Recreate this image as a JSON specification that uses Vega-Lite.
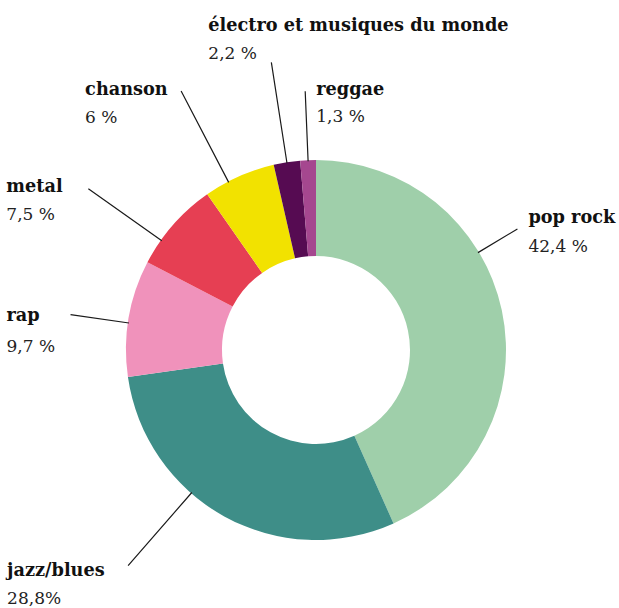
{
  "$schema": "https://vega.github.io/schema/vega-lite/v6.json",
  "width": 600,
  "height": 516,
  "autosize": {"type": "none"},
  "padding": {"left": 16, "top": 92, "right": 3, "bottom": 0},
  "background": "#ffffff",
  "config": {"view": {"stroke": null}, "text": {"font": "DejaVu Serif", "fontSize": 17, "baseline": "alphabetic"}},
  "data": {
    "values": [
      {"rank": 1, "genre": "pop rock", "pct": 42.4, "label": "42,4 %"},
      {"rank": 2, "genre": "jazz/blues", "pct": 28.8, "label": "28,8%"},
      {"rank": 3, "genre": "rap", "pct": 9.7, "label": "9,7 %"},
      {"rank": 4, "genre": "metal", "pct": 7.5, "label": "7,5 %"},
      {"rank": 5, "genre": "chanson", "pct": 6, "label": "6 %"},
      {"rank": 6, "genre": "électro et musiques du monde", "pct": 2.2, "label": "2,2 %"},
      {"rank": 7, "genre": "reggae", "pct": 1.3, "label": "1,3 %"}
    ]
  },
  "encoding": {
    "theta": {"field": "pct", "type": "quantitative", "stack": true},
    "order": {"field": "rank", "type": "quantitative"},
    "detail": {"field": "genre", "type": "nominal"}
  },
  "layer": [
    {
      "mark": {"type": "arc", "innerRadius": 94, "outerRadius": 190},
      "encoding": {
        "color": {
          "field": "genre", "type": "nominal", "legend": null,
          "scale": {
            "domain": ["pop rock", "jazz/blues", "rap", "metal", "chanson", "électro et musiques du monde", "reggae"],
            "range": ["#9fcfaa", "#3e8e88", "#f092bb", "#e63f53", "#f2e200", "#560b52", "#a5478f"]
          }
        }
      }
    },
    {
      "mark": {"type": "arc", "filled": false, "stroke": "#1a1a1a", "strokeWidth": 1.2, "padAngle": 3, "innerRadius": 189, "outerRadius": 235, "thetaOffset": -0.331, "theta2Offset": -0.331},
      "encoding": {"strokeOpacity": {"condition": {"test": "datum.genre === 'pop rock'", "value": 1}, "value": 0}}
    },
    {
      "mark": {"type": "arc", "filled": false, "stroke": "#1a1a1a", "strokeWidth": 1.2, "padAngle": 3, "innerRadius": 189, "outerRadius": 286, "thetaOffset": 0.213, "theta2Offset": 0.213},
      "encoding": {"strokeOpacity": {"condition": {"test": "datum.genre === 'jazz/blues'", "value": 1}, "value": 0}}
    },
    {
      "mark": {"type": "arc", "filled": false, "stroke": "#1a1a1a", "strokeWidth": 1.2, "padAngle": 3, "innerRadius": 189, "outerRadius": 248, "thetaOffset": -0.025, "theta2Offset": -0.025},
      "encoding": {"strokeOpacity": {"condition": {"test": "datum.genre === 'rap'", "value": 1}, "value": 0}}
    },
    {
      "mark": {"type": "arc", "filled": false, "stroke": "#1a1a1a", "strokeWidth": 1.2, "padAngle": 3, "innerRadius": 189, "outerRadius": 279, "thetaOffset": -0.104, "theta2Offset": -0.104},
      "encoding": {"strokeOpacity": {"condition": {"test": "datum.genre === 'metal'", "value": 1}, "value": 0}}
    },
    {
      "mark": {"type": "arc", "filled": false, "stroke": "#1a1a1a", "strokeWidth": 1.2, "padAngle": 3, "innerRadius": 189, "outerRadius": 292, "thetaOffset": -0.063, "theta2Offset": -0.063},
      "encoding": {"strokeOpacity": {"condition": {"test": "datum.genre === 'chanson'", "value": 1}, "value": 0}}
    },
    {
      "mark": {"type": "arc", "filled": false, "stroke": "#1a1a1a", "strokeWidth": 1.2, "padAngle": 3, "innerRadius": 189, "outerRadius": 291},
      "encoding": {"strokeOpacity": {"condition": {"test": "datum.genre === 'électro et musiques du monde'", "value": 1}, "value": 0}}
    },
    {
      "mark": {"type": "arc", "filled": false, "stroke": "#1a1a1a", "strokeWidth": 1.2, "padAngle": 3, "innerRadius": 189, "outerRadius": 259},
      "encoding": {"strokeOpacity": {"condition": {"test": "datum.genre === 'reggae'", "value": 1}, "value": 0}}
    },

    {"mark": {"type": "text", "radius": 235, "thetaOffset": -0.331, "align": "left", "dx": 11, "dy": -6, "fontWeight": "bold", "fontSize": 17.7, "color": "#111"},
     "encoding": {"text": {"field": "genre"}, "opacity": {"condition": {"test": "datum.genre === 'pop rock'", "value": 1}, "value": 0}}},
    {"mark": {"type": "text", "radius": 235, "thetaOffset": -0.331, "align": "left", "dx": 11, "dy": 23, "color": "#222"},
     "encoding": {"text": {"field": "label"}, "opacity": {"condition": {"test": "datum.genre === 'pop rock'", "value": 1}, "value": 0}}},

    {"mark": {"type": "text", "radius": 286, "thetaOffset": 0.213, "align": "left", "dx": -121, "dy": 10, "fontWeight": "bold", "fontSize": 17.7, "color": "#111"},
     "encoding": {"text": {"field": "genre"}, "opacity": {"condition": {"test": "datum.genre === 'jazz/blues'", "value": 1}, "value": 0}}},
    {"mark": {"type": "text", "radius": 286, "thetaOffset": 0.213, "align": "left", "dx": -121, "dy": 38, "color": "#222"},
     "encoding": {"text": {"field": "label"}, "opacity": {"condition": {"test": "datum.genre === 'jazz/blues'", "value": 1}, "value": 0}}},

    {"mark": {"type": "text", "radius": 248, "thetaOffset": -0.025, "align": "left", "dx": -64, "dy": 6, "fontWeight": "bold", "fontSize": 17.7, "color": "#111"},
     "encoding": {"text": {"field": "genre"}, "opacity": {"condition": {"test": "datum.genre === 'rap'", "value": 1}, "value": 0}}},
    {"mark": {"type": "text", "radius": 248, "thetaOffset": -0.025, "align": "left", "dx": -64, "dy": 37, "color": "#222"},
     "encoding": {"text": {"field": "label"}, "opacity": {"condition": {"test": "datum.genre === 'rap'", "value": 1}, "value": 0}}},

    {"mark": {"type": "text", "radius": 279, "thetaOffset": -0.104, "align": "left", "dx": -82, "dy": 3, "fontWeight": "bold", "fontSize": 17.7, "color": "#111"},
     "encoding": {"text": {"field": "genre"}, "opacity": {"condition": {"test": "datum.genre === 'metal'", "value": 1}, "value": 0}}},
    {"mark": {"type": "text", "radius": 279, "thetaOffset": -0.104, "align": "left", "dx": -82, "dy": 31, "color": "#222"},
     "encoding": {"text": {"field": "label"}, "opacity": {"condition": {"test": "datum.genre === 'metal'", "value": 1}, "value": 0}}},

    {"mark": {"type": "text", "radius": 292, "thetaOffset": -0.063, "align": "left", "dx": -96, "dy": 4, "fontWeight": "bold", "fontSize": 17.7, "color": "#111"},
     "encoding": {"text": {"field": "genre"}, "opacity": {"condition": {"test": "datum.genre === 'chanson'", "value": 1}, "value": 0}}},
    {"mark": {"type": "text", "radius": 292, "thetaOffset": -0.063, "align": "left", "dx": -96, "dy": 32, "color": "#222"},
     "encoding": {"text": {"field": "label"}, "opacity": {"condition": {"test": "datum.genre === 'chanson'", "value": 1}, "value": 0}}},

    {"mark": {"type": "text", "radius": 291, "align": "left", "dx": -63, "dy": -31, "fontWeight": "bold", "fontSize": 17.7, "color": "#111"},
     "encoding": {"text": {"field": "genre"}, "opacity": {"condition": {"test": "datum.genre === 'électro et musiques du monde'", "value": 1}, "value": 0}}},
    {"mark": {"type": "text", "radius": 291, "align": "left", "dx": -63, "dy": -3, "color": "#222"},
     "encoding": {"text": {"field": "label"}, "opacity": {"condition": {"test": "datum.genre === 'électro et musiques du monde'", "value": 1}, "value": 0}}},

    {"mark": {"type": "text", "radius": 259, "align": "left", "dx": 11, "dy": 4, "fontWeight": "bold", "fontSize": 17.7, "color": "#111"},
     "encoding": {"text": {"field": "genre"}, "opacity": {"condition": {"test": "datum.genre === 'reggae'", "value": 1}, "value": 0}}},
    {"mark": {"type": "text", "radius": 259, "align": "left", "dx": 11, "dy": 31, "color": "#222"},
     "encoding": {"text": {"field": "label"}, "opacity": {"condition": {"test": "datum.genre === 'reggae'", "value": 1}, "value": 0}}}
  ]
}
